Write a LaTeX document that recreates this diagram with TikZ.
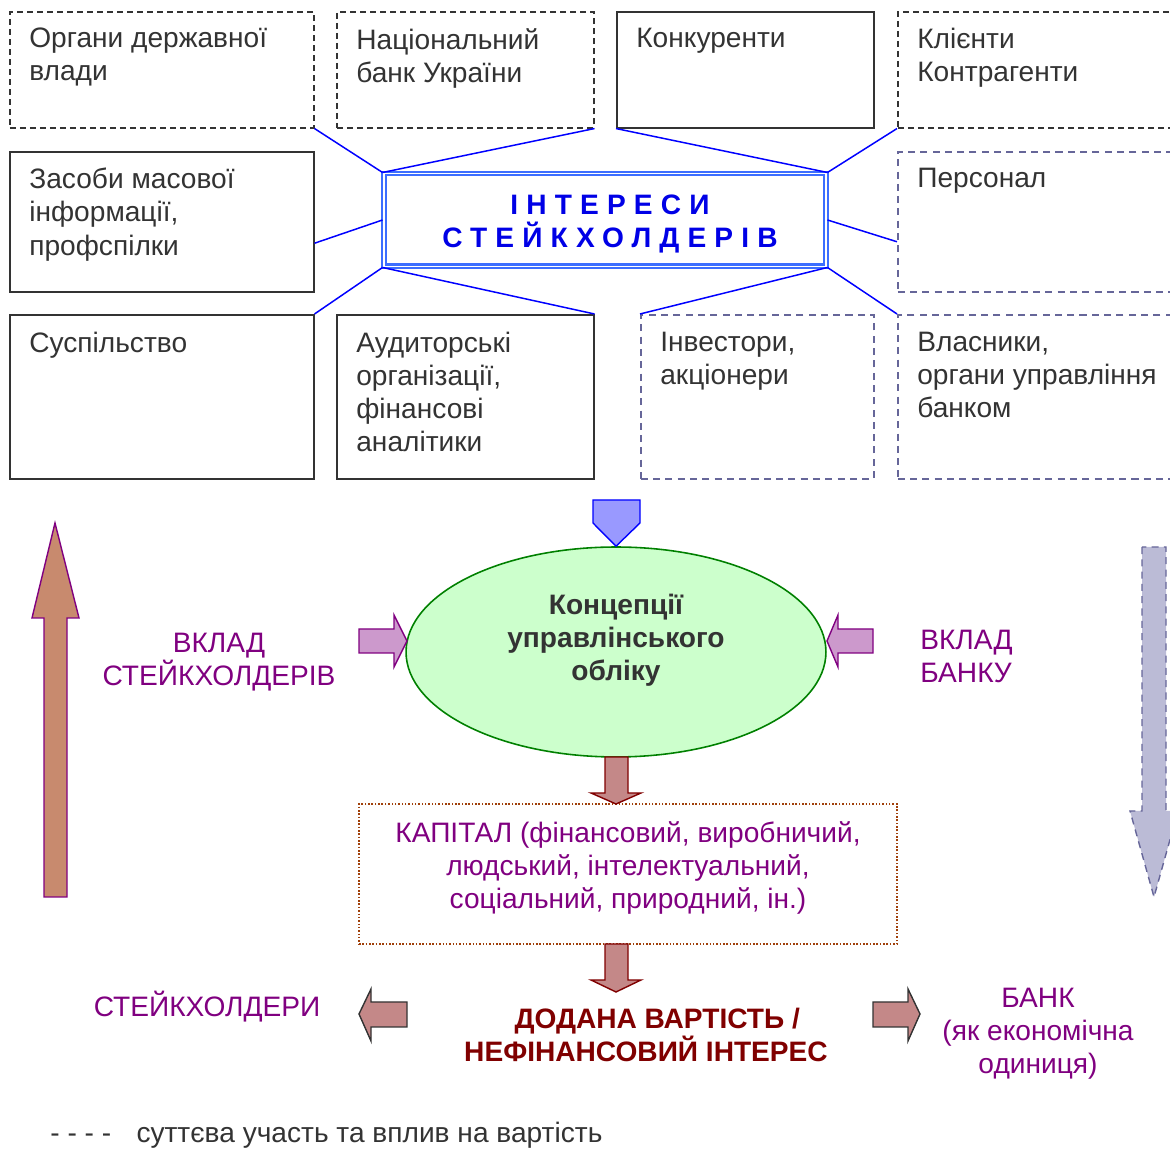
\documentclass[tikz,border=0pt]{standalone}
\usepackage{fontspec}
\setmainfont{Liberation Sans}
\newfontfamily\spacedfont[LetterSpace=29]{Liberation Sans}
\usepackage{tikz}
\usetikzlibrary{shapes.geometric}
\definecolor{boxgray}{HTML}{333333}
\definecolor{slate}{HTML}{666699}
\definecolor{linkblue}{HTML}{0000FF}
\definecolor{ringblue}{HTML}{3C6EFF}
\definecolor{titleblue}{HTML}{0000E6}
\definecolor{plum}{HTML}{800080}
\definecolor{wine}{HTML}{800000}
\definecolor{rust}{HTML}{A0400A}
\definecolor{mint}{HTML}{CCFFCC}
\definecolor{leaf}{HTML}{008000}
\definecolor{lilac}{HTML}{CC99CC}
\definecolor{clay}{HTML}{C88A6E}
\definecolor{rose}{HTML}{C48888}
\definecolor{haze}{HTML}{BBBBD6}
\definecolor{periwinkle}{HTML}{9999FF}
\newcommand\basesize{\fontsize{16}{18.8}\selectfont}
\tikzset{box/.style={draw=boxgray, line width=0.9pt, anchor=north west, inner sep=0pt},
  dashbox/.style={box, dash pattern=on 3.4pt off 2.3pt},
  slatebox/.style={box, draw=slate, dash pattern=on 4pt off 3pt},
  txt/.style={anchor=north west, align=left, inner sep=0pt, text=boxgray},
  plumtxt/.style={align=center, inner sep=0pt, text=plum},
  link/.style={draw=linkblue, line width=0.85pt},
  clayarrow/.style={fill=clay, draw=plum, line width=0.8pt},
  hazearrow/.style={fill=haze, draw=slate, line width=0.8pt, dash pattern=on 4pt off 3pt},
  lilacarrow/.style={fill=lilac, draw=plum, line width=0.8pt},
  rosearrow/.style={fill=rose, draw=wine, line width=0.8pt},
  sidearrow/.style={fill=rose, draw=boxgray, line width=0.8pt}}

\begin{document}
\begin{tikzpicture}[x=0.02cm, y=0.02cm, font=\basesize]
  \useasboundingbox (0,0) rectangle (1170,1149);

  % stakeholder boxes
  \node[dashbox, minimum width=6.08cm, minimum height=2.32cm] at (9,1138) (org) {};
  \node[dashbox, minimum width=5.14cm, minimum height=2.32cm] at (336,1138) (nbu) {};
  \node[box, minimum width=5.14cm, minimum height=2.32cm] at (616,1138) (konk) {};
  \node[dashbox, minimum width=5.66cm, minimum height=2.32cm] at (897,1138) (klient) {};
  \node[box, minimum width=6.08cm, minimum height=2.8cm] at (9,998) (zmi) {};
  \node[slatebox, minimum width=5.66cm, minimum height=2.8cm] at (897,998) (pers) {};
  \node[box, minimum width=6.08cm, minimum height=3.28cm] at (9,835) (susp) {};
  \node[box, minimum width=5.14cm, minimum height=3.28cm] at (336,835) (audit) {};
  \node[slatebox, minimum width=4.66cm, minimum height=3.28cm] at (640,835) (invest) {};
  \node[slatebox, minimum width=5.66cm, minimum height=3.28cm] at (897,835) (vlasn) {};

  \node[txt] at (29,1121) (orgT) {Органи державної\\влади};
  \node[txt] at (356,1121) (nbuT) {Національний\\банк України};
  \node[txt] at (636,1121) (konkT) {Конкуренти};
  \node[txt] at (917,1121) (klientT) {Клієнти\\Контрагенти};
  \node[txt] at (29,981) (zmiT) {Засоби масової\\інформації,\\профспілки};
  \node[txt] at (917,981) (persT) {Персонал};
  \node[txt] at (29,817) (suspT) {Суспільство};
  \node[txt] at (356,817) (auditT) {Аудиторські\\організації,\\фінансові\\аналітики};
  \node[txt] at (660,817) (investT) {Інвестори,\\акціонери};
  \node[txt] at (917,817) (vlasnT) {Власники,\\органи управління\\банком};

  % interests
  \node[draw=ringblue, double=white, double distance=1.1pt, line width=1.15pt,
    minimum width=8.86cm, minimum height=1.86cm, inner sep=0pt] at (605,929) (ctr) {};
  \node[align=center, inner sep=0pt, text=titleblue, font=\basesize\spacedfont\bfseries]
    at (610,925) (ctrT) {ІНТЕРЕСИ\\СТЕЙКХОЛДЕРІВ};

  \draw[link] (ctr.north west) -- (org.south east);
  \draw[link] (ctr.north west) -- (nbu.south east);
  \draw[link] (ctr.north east) -- (konk.south west);
  \draw[link] (ctr.north east) -- (klient.south west);
  \draw[link] (ctr.west) -- (zmi.-8.2);
  \draw[link] (ctr.east) -- (pers.188.8);
  \draw[link] (ctr.south west) -- (susp.north east);
  \draw[link] (ctr.south west) -- (audit.north east);
  \draw[link] (ctr.south east) -- (invest.north west);
  \draw[link] (ctr.south east) -- (vlasn.north west);

  % concept
  \node[ellipse, draw=leaf, fill=mint, line width=0.9pt, minimum width=8.4cm,
    minimum height=4.2cm, inner sep=0pt] at (616,497) (konc) {};
  \node[align=center, inner sep=0pt, text=boxgray, font=\basesize\bfseries]
    at (616,509) (koncT) {Концепції\\управлінського\\обліку};
  \draw[fill=periwinkle, draw=linkblue, line width=0.8pt]
    (593,649) -- (640,649) -- (640,626) -- (konc.north) -- (593,626) -- cycle;

  \draw[lilacarrow] (359,520) -- (394,520) -- (394,534) -- (407,508) -- (394,482)
    -- (394,496) -- (359,496) -- cycle;
  \draw[lilacarrow] (873,520) -- (838,520) -- (838,534) -- (827,508) -- (838,482)
    -- (838,496) -- (873,496) -- cycle;
  \node[plumtxt] at (219,487) (vkladS) {ВКЛАД\\СТЕЙКХОЛДЕРІВ};
  \node[plumtxt, anchor=west, align=left] at (920,493) (vkladB) {ВКЛАД\\БАНКУ};

  \draw[clayarrow] (44,252) -- (44,531) -- (32,531) -- (55,626) -- (79,531)
    -- (67,531) -- (67,252) -- cycle;
  \draw[hazearrow] (1142,602) -- (1142,338) -- (1130,338) -- (1154,252) -- (1178,338)
    -- (1166,338) -- (1166,602) -- cycle;

  % capital and value
  \node[draw=rust, line width=0.9pt, densely dotted, minimum width=10.76cm,
    minimum height=2.8cm, inner sep=0pt] at (628,275) (kapital) {};
  \node[plumtxt] at (628,281) (kapT)
    {КАПІТАЛ (фінансовий, виробничий,\\людський, інтелектуальний,\\соціальний, природний, ін.)};
  \draw[rosearrow] (605,392) -- (605,356) -- (591,356) -- (616,345) -- (641,356)
    -- (628,356) -- (628,392) -- cycle;
  \draw[rosearrow] (605,205) -- (605,169) -- (591,169) -- (616,157) -- (641,169)
    -- (628,169) -- (628,205) -- cycle;

  \node[align=center, inner sep=0pt, text=wine, font=\basesize\bfseries]
    at (646,114) (value) {\hspace*{0.8em}ДОДАНА ВАРТІСТЬ /\\НЕФІНАНСОВИЙ ІНТЕРЕС};
  \draw[sidearrow] (407,147) -- (371,147) -- (371,160) -- (359,135) -- (371,108)
    -- (371,122) -- (407,122) -- cycle;
  \draw[sidearrow] (873,147) -- (908,147) -- (908,160) -- (920,135) -- (908,108)
    -- (908,122) -- (873,122) -- cycle;
  \node[plumtxt] at (207,142) (stake) {СТЕЙКХОЛДЕРИ};
  \node[plumtxt] at (1038,115) (bank) {БАНК\\(як економічна\\одиниця)};

  \node[anchor=base west, inner sep=0pt, text=boxgray] at (50,6) (legend)
    {- - - -\hspace{0.9em}суттєва участь та вплив на вартість};
\end{tikzpicture}
\end{document}
